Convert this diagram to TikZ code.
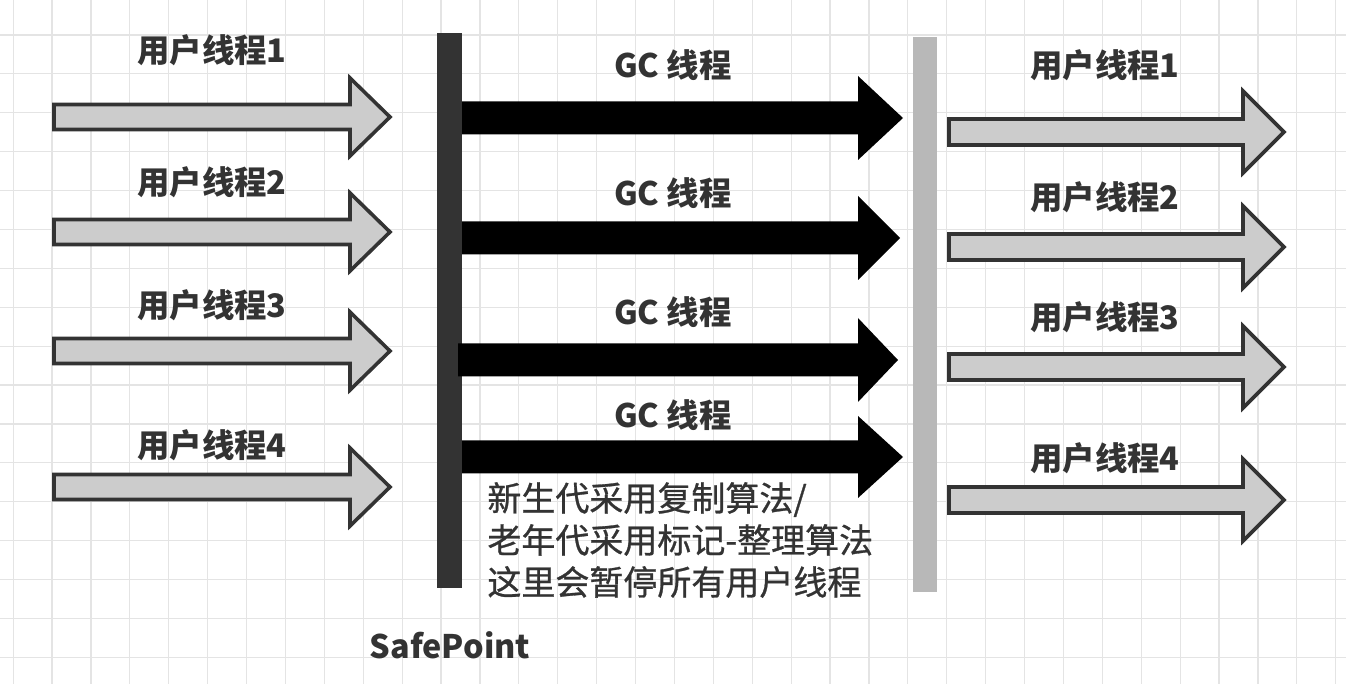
\documentclass[tikz,border=0pt]{standalone}
\usepackage{fontspec}
\setmainfont{Noto Sans CJK SC}
\newfontfamily\notefont[FakeBold=0.8]{Noto Sans CJK SC}
\definecolor{txt}{HTML}{333333}
\definecolor{gridc}{HTML}{E4E4E4}
\definecolor{afill}{HTML}{CCCCCC}
\definecolor{astroke}{HTML}{333333}
\definecolor{spbar}{HTML}{333333}
\definecolor{endbar}{HTML}{B8B8B8}
\tikzset{
  gridline/.style={draw=gridc, line width=0.6pt},
  userarrow/.style={fill=afill, draw=astroke, line width=1.8pt, line join=miter},
  gcarrow/.style={fill=black, draw=none},
  lbl/.style={font=\fontsize{16.2pt}{18pt}\selectfont\bfseries, text=txt, inner sep=0pt},
  note/.style={font=\notefont\fontsize{17pt}{21pt}\selectfont, text=txt, inner sep=0pt, align=left},
}
% block arrow: #1 style, #2 x start, #3 x head base, #4 x tip, #5 y centre, #6 shaft half, #7 head half, #8 name
\newcommand\myblockarrow[8]{%
  \draw[#1] (#2,#5-#6) -- (#3,#5-#6) -- (#3,#5-#7) -- (#4,#5) -- (#3,#5+#7) -- (#3,#5+#6) -- (#2,#5+#6) -- cycle;
  \coordinate (#8) at (#4,#5);
}
\begin{document}
\begin{tikzpicture}[x=0.5pt,y=-0.5pt]
\useasboundingbox (0,0) rectangle (1346,684);
\fill[white] (0,0) rectangle (1346,684);
% grid
\foreach \k in {0,...,34} { \draw[gridline] (13.1+\k*38.9,0) -- (13.1+\k*38.9,684); }
\foreach \k in {0,...,17} { \draw[gridline] (0,-3.9+\k*38.9) -- (1346,-3.9+\k*38.9); }
% bars
\fill[spbar] (437,33) rectangle (462,588);
\node[inner sep=0pt] (safebar) at (449.5,310) {};
\fill[endbar] (913,37) rectangle (937,592);
\node[inner sep=0pt] (endbarnode) at (925,314) {};
% left user arrows
\myblockarrow{userarrow}{54}{350}{390}{117}{12.5}{39}{la1}
\myblockarrow{userarrow}{54}{350}{390}{232}{12.5}{39}{la2}
\myblockarrow{userarrow}{54}{350}{390}{351}{12.5}{39}{la3}
\myblockarrow{userarrow}{54}{350}{390}{487}{12.5}{39}{la4}
% GC arrows
\myblockarrow{gcarrow}{462}{858}{903}{118}{16.5}{42}{ga1}
\myblockarrow{gcarrow}{462}{858}{900}{238}{16.5}{42}{ga2}
\myblockarrow{gcarrow}{458}{858}{898}{360}{16.5}{42}{ga3}
\myblockarrow{gcarrow}{462}{858}{903}{457}{16.5}{41}{ga4}
% right user arrows
\myblockarrow{userarrow}{949}{1243}{1284}{132}{13}{41}{ra1}
\myblockarrow{userarrow}{949}{1243}{1284}{247}{13}{41}{ra2}
\myblockarrow{userarrow}{949}{1243}{1284}{367}{13}{41}{ra3}
\myblockarrow{userarrow}{949}{1243}{1284}{500}{13}{41}{ra4}
% labels
\node[lbl] (l1) at (212,50) {用户线程1};
\node[lbl] (l2) at (212,182) {用户线程2};
\node[lbl] (l3) at (212,305) {用户线程3};
\node[lbl] (l4) at (212,445) {用户线程4};
\node[lbl] (g1) at (673,65) {GC 线程};
\node[lbl] (g2) at (673,193) {GC 线程};
\node[lbl] (g3) at (673,312) {GC 线程};
\node[lbl] (g4) at (673,415) {GC 线程};
\node[lbl] (r1) at (1105,65) {用户线程1};
\node[lbl] (r2) at (1105,197) {用户线程2};
\node[lbl] (r3) at (1105,317) {用户线程3};
\node[lbl] (r4) at (1105,458) {用户线程4};
\node[note, anchor=west] (notetext) at (487,540) {新生代采用复制算法/\\老年代采用标记-整理算法\\这里会暂停所有用户线程};
\node[lbl] (safepoint) at (450,645) {SafePoint};
\end{tikzpicture}
\end{document}
